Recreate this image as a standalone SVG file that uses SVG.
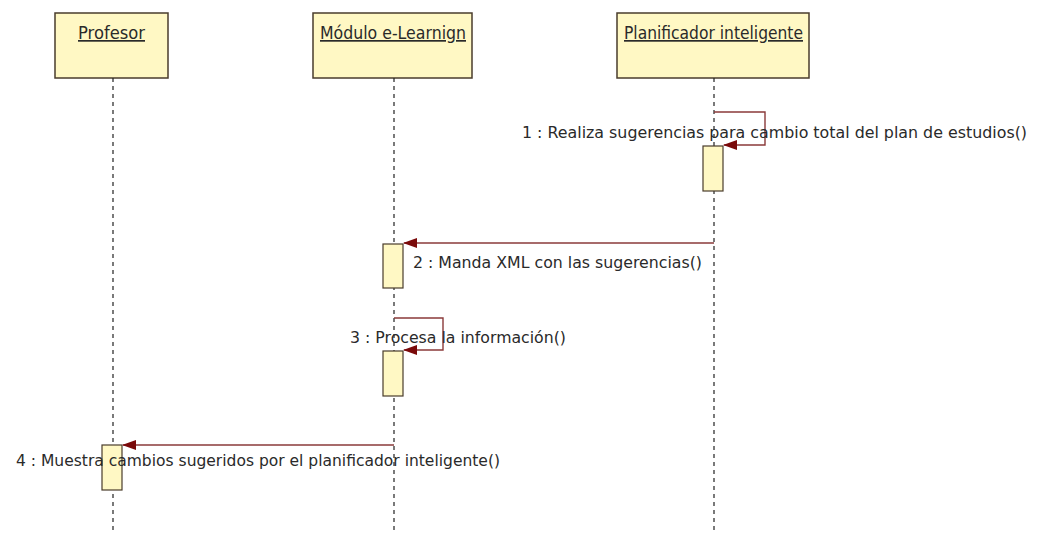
<svg xmlns="http://www.w3.org/2000/svg" width="1037" height="535" viewBox="0 0 1037 535">
<style>
.obj{fill:#fff8c4;stroke:#4a3c2c;stroke-width:1.5}
.act{fill:#fff8c4;stroke:#4a3c2c;stroke-width:1.2}
.life{stroke:#222;stroke-width:1.2;stroke-dasharray:4,4;fill:none}
.msg{stroke:#8a3a3a;stroke-width:1.4;fill:none}
.t{font-family:"DejaVu Sans","Liberation Sans",sans-serif;font-size:15.5px;fill:#2a2a2a}
.h{font-family:"DejaVu Sans","Liberation Sans",sans-serif;font-size:17px;fill:#2a2a2a;text-decoration:underline}
</style>
<defs>
<marker id="ah" viewBox="0 0 14 10" refX="13" refY="5" markerWidth="14" markerHeight="10" markerUnits="userSpaceOnUse" orient="auto">
<path d="M0,0 L14,5 L0,10 Z" fill="#7a0a0a"/>
</marker>
</defs>
<rect width="1037" height="535" fill="#fff"/>
<g id="profesor">
<rect class="obj" x="55" y="13" width="113" height="65"/>
<text class="h" x="78" y="39" textLength="67" lengthAdjust="spacingAndGlyphs">Profesor</text>
<line class="life" x1="113" y1="78" x2="113" y2="532"/>
<rect class="act" x="102" y="445" width="20" height="45"/>
</g>
<g id="modulo">
<rect class="obj" x="313" y="13" width="159" height="65"/>
<text class="h" x="320" y="39" textLength="146" lengthAdjust="spacingAndGlyphs">Módulo e-Learnign</text>
<line class="life" x1="394" y1="78" x2="394" y2="532"/>
<rect class="act" x="383" y="244" width="20" height="44"/>
<rect class="act" x="383" y="351" width="20" height="45"/>
</g>
<g id="planificador">
<rect class="obj" x="617" y="13" width="192" height="65"/>
<text class="h" x="624" y="39" textLength="179" lengthAdjust="spacingAndGlyphs">Planificador inteligente</text>
<line class="life" x1="714" y1="78" x2="714" y2="532"/>
<rect class="act" x="703" y="146" width="20" height="45"/>
</g>
<g id="connectors">
<path class="msg" d="M714,112 H765 V145 H724" marker-end="url(#ah)"/>
<path class="msg" d="M714,243 H404" marker-end="url(#ah)"/>
<path class="msg" d="M394,318 H443 V350 H404" marker-end="url(#ah)"/>
<path class="msg" d="M394,445 H123" marker-end="url(#ah)"/>
</g>
<g id="labels">
<text class="t" x="522" y="138" textLength="505" lengthAdjust="spacingAndGlyphs">1 : Realiza sugerencias para cambio total del plan de estudios()</text>
<text class="t" x="413" y="268" textLength="289" lengthAdjust="spacingAndGlyphs">2 : Manda XML con las sugerencias()</text>
<text class="t" x="350" y="343" textLength="216" lengthAdjust="spacingAndGlyphs">3 : Procesa la información()</text>
<text class="t" x="16" y="466" textLength="484" lengthAdjust="spacingAndGlyphs">4 : Muestra cambios sugeridos por el planificador inteligente()</text>
</g>
</svg>
